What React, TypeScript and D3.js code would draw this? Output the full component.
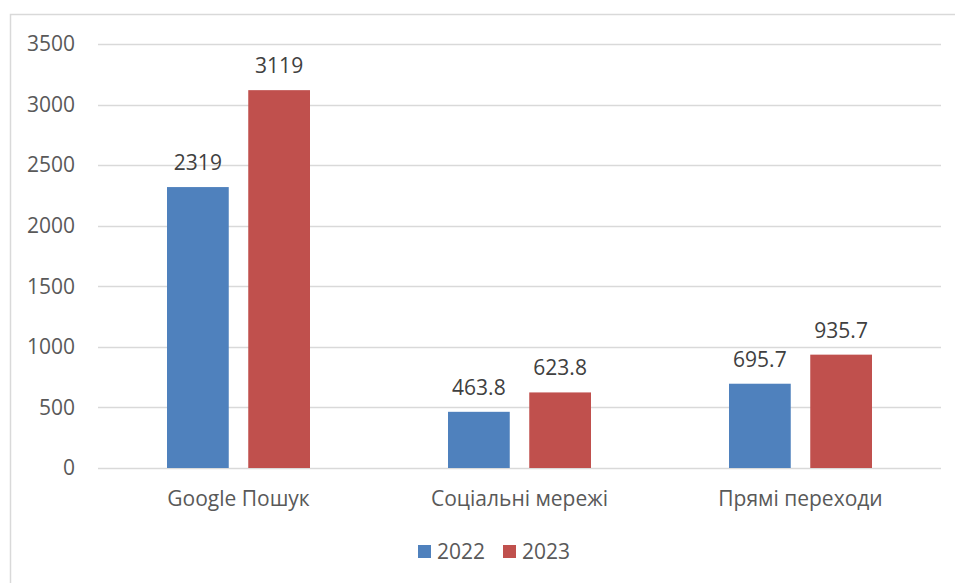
import React, { useEffect, useRef } from 'react';
import * as d3 from 'd3';

const categories = ['Google Пошук', 'Соціальні мережі', 'Прямі переходи'];
const seriesNames = ['2022', '2023'];
const values2022 = [2319, 463.8, 695.7];
const values2023 = [3119, 623.8, 935.7];
const yTicks = [0, 500, 1000, 1500, 2000, 2500, 3000, 3500];
const colors = ['#4F81BD', '#C0504D'];

export default function App() {
    const ref = useRef<SVGSVGElement>(null);

    useEffect(() => {
        const totalWidth = 955;
        const totalHeight = 583;
        const margin = { top: 44, right: 14, bottom: 115, left: 98 };
        const width = totalWidth - margin.left - margin.right;
        const height = totalHeight - margin.top - margin.bottom;
        const font = 'Open Sans, sans-serif';
        const fontSize = '21px';
        const textColor = '#595959';

        const root = d3.select(ref.current);
        root.selectAll('*').remove();
        root.attr('width', totalWidth).attr('height', totalHeight);

        // chart frame (right and bottom edges fall outside the picture)
        root.append('rect')
            .attr('x', 10.5).attr('y', 14.5)
            .attr('width', 960).attr('height', 600)
            .attr('fill', 'white')
            .attr('stroke', '#d9d9d9')
            .attr('stroke-width', 1.5);

        const svg = root.append('g')
            .attr('transform', `translate(${margin.left},${margin.top})`);

        const x = d3.scaleBand().domain(categories).range([0, width]);
        const xInner = d3.scaleBand().domain(seriesNames).range([0, 143]).paddingInner(0.24);
        const y = d3.scaleLinear().domain([0, 3500]).range([height, 0]);

        svg.append('g')
            .selectAll('line')
            .data(yTicks)
            .join('line')
            .attr('x1', 0).attr('x2', width)
            .attr('y1', d => Math.round(y(d)) + 0.5).attr('y2', d => Math.round(y(d)) + 0.5)
            .attr('stroke', '#d9d9d9')
            .attr('stroke-width', 1.5);

        svg.append('g')
            .selectAll('text')
            .data(yTicks)
            .join('text')
            .attr('x', -23)
            .attr('y', d => y(d))
            .attr('dy', '0.35em')
            .attr('text-anchor', 'end')
            .style('font-family', font)
            .style('font-size', fontSize)
            .style('fill', textColor)
            .text(d => d);

        const series = [values2022, values2023];
        series.forEach((vals, si) => {
            const g = svg.append('g');
            const bx = (i: number) => x(categories[i])! + x.bandwidth() / 2 - 71.5 + xInner(seriesNames[si])!;
            g.selectAll('rect')
                .data(vals)
                .join('rect')
                .attr('x', (d, i) => bx(i))
                .attr('y', d => y(d))
                .attr('width', xInner.bandwidth())
                .attr('height', d => height - y(d))
                .attr('fill', colors[si]);
            g.selectAll('text')
                .data(vals)
                .join('text')
                .attr('x', (d, i) => bx(i) + xInner.bandwidth() / 2)
                .attr('y', d => y(d) - 17)
                .attr('text-anchor', 'middle')
                .style('font-family', font)
                .style('font-size', fontSize)
                .style('fill', '#404040')
                .text(d => d);
        });

        svg.append('g')
            .selectAll('text')
            .data(categories)
            .join('text')
            .attr('x', d => x(d)! + x.bandwidth() / 2)
            .attr('y', height + 38)
            .attr('text-anchor', 'middle')
            .style('font-family', font)
            .style('font-size', fontSize)
            .style('fill', textColor)
            .text(d => d);

        // legend
        const legend = root.append('g');
        seriesNames.forEach((name, i) => {
            const lx = 418 + i * 85;
            legend.append('rect')
                .attr('x', lx).attr('y', 545)
                .attr('width', 13).attr('height', 13)
                .attr('fill', colors[i]);
            legend.append('text')
                .attr('x', lx + 19).attr('y', 551.5)
                .attr('dy', '0.35em')
                .style('font-family', font)
                .style('font-size', fontSize)
                .style('fill', textColor)
                .text(name);
        });
    }, []);

    return (
        <svg ref={ref} style={{ position: 'absolute', left: 0, top: 0 }} />
    );
}
